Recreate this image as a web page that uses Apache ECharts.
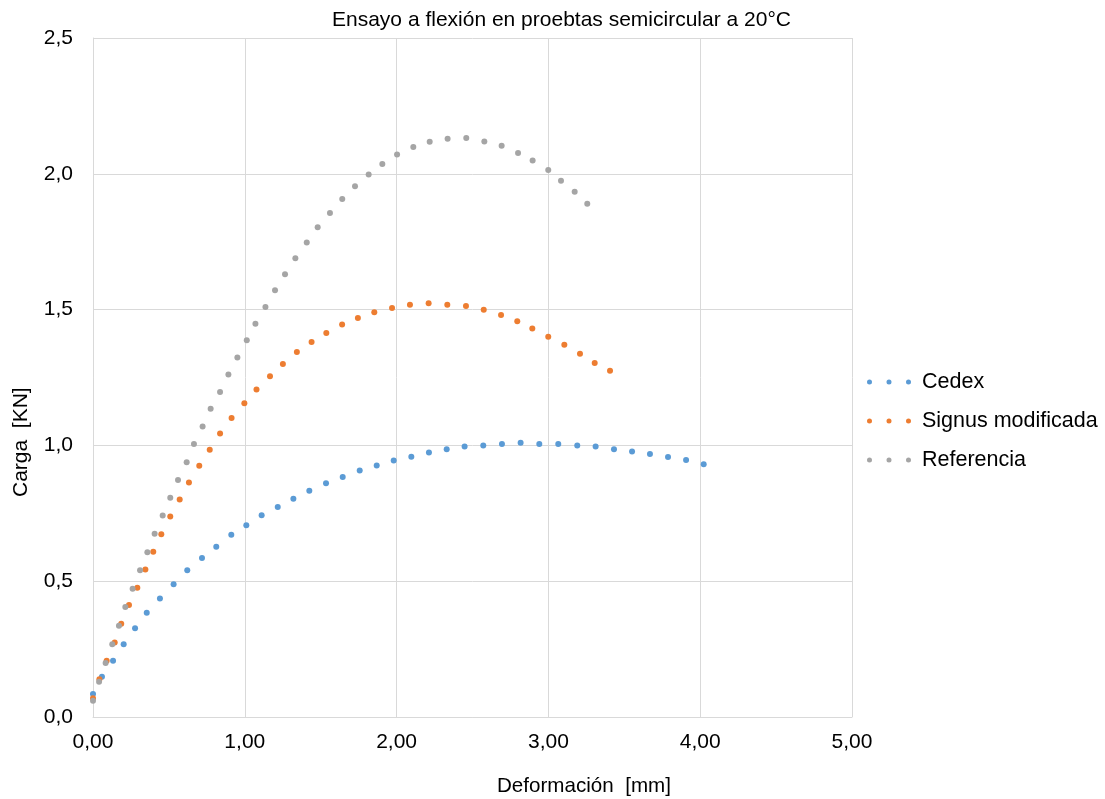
<!DOCTYPE html>
<html>
<head>
<meta charset="utf-8">
<title>Ensayo a flexión</title>
<script src="https://cdn.jsdelivr.net/npm/echarts@6/dist/echarts.min.js"></script>
<style>
  html, body { margin: 0; padding: 0; background: #fff; }
  #chart { width: 1105px; height: 799px; }
</style>
</head>
<body>
<div id="chart"></div>
<script>
// valores
var cedexX = [0, 0.059, 0.132, 0.202, 0.277, 0.354, 0.441, 0.531, 0.621, 0.718, 0.812, 0.911, 1.010, 1.111, 1.217, 1.320, 1.425, 1.535, 1.645, 1.757, 1.869, 1.981, 2.097, 2.213, 2.330, 2.448, 2.571, 2.694, 2.817, 2.940, 3.065, 3.190, 3.311, 3.432, 3.551, 3.669, 3.788, 3.907, 4.023]
var cedexY = [0.085, 0.148, 0.207, 0.268, 0.327, 0.384, 0.436, 0.489, 0.540, 0.585, 0.627, 0.671, 0.706, 0.743, 0.773, 0.804, 0.833, 0.861, 0.884, 0.908, 0.926, 0.944, 0.958, 0.974, 0.986, 0.996, 1.000, 1.005, 1.010, 1.005, 1.005, 1.000, 0.996, 0.986, 0.978, 0.968, 0.957, 0.946, 0.931]

var signusX = [0, 0.042, 0.090, 0.143, 0.186, 0.237, 0.292, 0.345, 0.397, 0.450, 0.509, 0.571, 0.632, 0.700, 0.769, 0.837, 0.913, 0.997, 1.077, 1.166, 1.251, 1.343, 1.440, 1.537, 1.641, 1.745, 1.853, 1.970, 2.088, 2.211, 2.334, 2.457, 2.574, 2.688, 2.795, 2.894, 2.999, 3.105, 3.208, 3.305, 3.406]
var signusY = [0.069, 0.139, 0.207, 0.274, 0.343, 0.412, 0.476, 0.543, 0.608, 0.673, 0.738, 0.801, 0.863, 0.925, 0.984, 1.044, 1.101, 1.155, 1.206, 1.255, 1.300, 1.344, 1.381, 1.414, 1.445, 1.469, 1.490, 1.506, 1.518, 1.523, 1.518, 1.513, 1.499, 1.480, 1.457, 1.430, 1.400, 1.371, 1.337, 1.303, 1.275]

var refX = [0, 0.040, 0.083, 0.127, 0.171, 0.213, 0.261, 0.310, 0.358, 0.406, 0.459, 0.509, 0.560, 0.617, 0.665, 0.722, 0.775, 0.837, 0.892, 0.951, 1.013, 1.070, 1.136, 1.199, 1.265, 1.333, 1.408, 1.480, 1.561, 1.642, 1.726, 1.816, 1.906, 2.003, 2.110, 2.218, 2.336, 2.459, 2.578, 2.692, 2.800, 2.896, 2.999, 3.083, 3.173, 3.256]
var refY = [0.060, 0.130, 0.199, 0.268, 0.336, 0.405, 0.472, 0.540, 0.607, 0.675, 0.742, 0.807, 0.873, 0.938, 1.005, 1.070, 1.135, 1.197, 1.261, 1.324, 1.387, 1.448, 1.510, 1.571, 1.630, 1.689, 1.747, 1.803, 1.856, 1.907, 1.954, 1.997, 2.036, 2.071, 2.099, 2.118, 2.129, 2.132, 2.119, 2.103, 2.077, 2.049, 2.014, 1.974, 1.934, 1.890]

var seriesNames = ['Cedex', 'Signus modificada', 'Referencia']
var seriesColors = ['#5B9BD5', '#ED7D31', '#A5A5A5']

var FONT = '"Liberation Sans", Arial, sans-serif'
var TEXT_COLOR = '#000'
var GRID_COLOR = '#d9d9d9'

// tres puntos, como la leyenda de Excel
var dotsIcon = 'path://M0,2.5A2.5,2.5,0,1,0,5,2.5A2.5,2.5,0,1,0,0,2.5Z' +
  'M19.5,2.5A2.5,2.5,0,1,0,24.5,2.5A2.5,2.5,0,1,0,19.5,2.5Z' +
  'M39,2.5A2.5,2.5,0,1,0,44,2.5A2.5,2.5,0,1,0,39,2.5Z'

function pairs (xs, ys) {
  var out = []
  for (var i = 0; i < xs.length; i++) {
    out.push([xs[i], ys[i]])
  }
  return out
}

var seriesData = [pairs(cedexX, cedexY), pairs(signusX, signusY), pairs(refX, refY)]

var option = {
  backgroundColor: '#fff',
  animation: false,
  textStyle: { fontFamily: FONT },

  title: {
    text: 'Ensayo a flexión en proebtas semicircular a 20°C',
    left: 327,
    top: 5,
    textStyle: {
      color: TEXT_COLOR,
      fontFamily: FONT,
      fontSize: 21,
      fontWeight: 'normal'
    }
  },

  grid: {
    left: 93,
    top: 38,
    width: 759,
    height: 679
  },

  legend: {
    orient: 'vertical',
    left: 862,
    top: 366,
    itemWidth: 44,
    itemHeight: 5,
    itemGap: 17,
    icon: dotsIcon,
    data: seriesNames,
    textStyle: {
      color: TEXT_COLOR,
      fontFamily: FONT,
      fontSize: 21.5,
      lineHeight: 21,
      padding: [0, 0, 0, 6]
    }
  },

  xAxis: {
    type: 'value',
    min: 0,
    max: 5,
    interval: 1,
    axisLine: { show: true, onZero: false, lineStyle: { color: GRID_COLOR, width: 1 } },
    axisTick: { show: false },
    splitLine: { show: true, lineStyle: { color: GRID_COLOR, width: 1 } },
    axisLabel: {
      color: TEXT_COLOR,
      fontFamily: FONT,
      fontSize: 21,
      margin: 15,
      formatter: function (v) { return v.toFixed(2).replace('.', ',') }
    }
  },

  yAxis: {
    type: 'value',
    min: 0,
    max: 2.5,
    interval: 0.5,
    axisLine: { show: true, lineStyle: { color: GRID_COLOR, width: 1 } },
    axisTick: { show: false },
    splitLine: { show: true, lineStyle: { color: GRID_COLOR, width: 1 } },
    axisLabel: {
      color: TEXT_COLOR,
      fontFamily: FONT,
      fontSize: 21,
      margin: 20,
      formatter: function (v) { return v.toFixed(1).replace('.', ',') }
    }
  },

  graphic: [
    {
      type: 'text',
      left: 497,
      top: 776,
      style: {
        text: 'Deformación  [mm]',
        fill: TEXT_COLOR,
        font: '20.6px ' + FONT
      }
    },
    {
      type: 'text',
      x: 11,
      y: 497,
      rotation: Math.PI / 2,
      style: {
        text: 'Carga  [KN]',
        fill: TEXT_COLOR,
        font: '21px ' + FONT
      }
    }
  ],

  series: seriesNames.map(function (name, i) {
    return {
      name: name,
      type: 'scatter',
      data: seriesData[i],
      symbol: 'circle',
      symbolSize: 6,
      itemStyle: { color: seriesColors[i], opacity: 1 }
    }
  })
}

var myChart = echarts.init(document.getElementById('chart'), null, { renderer: 'canvas' })
myChart.setOption(option)
</script>
</body>
</html>
